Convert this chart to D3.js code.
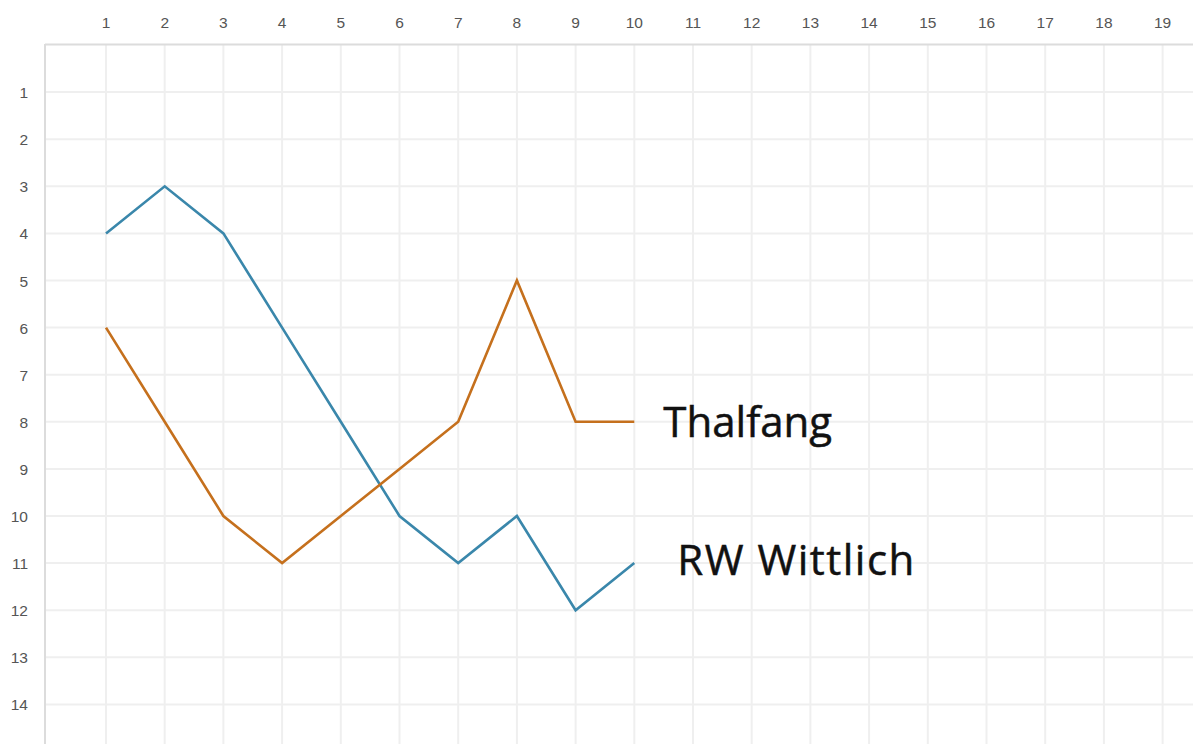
<!DOCTYPE html>
<html>
<head>
<meta charset="utf-8">
<script src="https://cdn.jsdelivr.net/npm/d3@7"></script>
<style>
  html, body { margin: 0; padding: 0; background: #fff; overflow: hidden; }
</style>
</head>
<body>
<div id="chart"></div>
<script>
// Data
const matchdays = d3.range(1, 11);
const xTicks = d3.range(1, 20);
const yTicks = d3.range(1, 15);
const wittlich = [4, 3, 4, 6, 8, 10, 11, 10, 12, 11];
const thalfang = [6, 8, 10, 11, 10, 9, 8, 5, 8, 8];
const seriesNames = ["RW Wittlich", "Thalfang"];

const width = 1193;
const height = 744;
const plotLeft = 45;
const plotTop = 45;

const svg = d3.select("#chart")
  .append("svg")
  .attr("width", width)
  .attr("height", height);

// Scales
const x = d3.scaleLinear().domain([0, 1]).range([47.3, 106]);
const y = d3.scaleLinear().domain([0, 1]).range([45, 92.1]);

// Grid
svg.append("g")
  .selectAll("line")
  .data(xTicks)
  .enter()
  .append("line")
  .attr("x1", d => x(d)).attr("x2", d => x(d))
  .attr("y1", plotTop).attr("y2", height)
  .style("stroke", "#efefef")
  .style("stroke-width", 2);

svg.append("g")
  .selectAll("line")
  .data(yTicks)
  .enter()
  .append("line")
  .attr("x1", plotLeft).attr("x2", width)
  .attr("y1", d => y(d)).attr("y2", d => y(d))
  .style("stroke", "#efefef")
  .style("stroke-width", 2);

// Frame top / left
svg.append("line")
  .attr("x1", plotLeft).attr("x2", width)
  .attr("y1", plotTop - 0.5).attr("y2", plotTop - 0.5)
  .style("stroke", "#dcdcdc").style("stroke-width", 2);
svg.append("line")
  .attr("x1", plotLeft).attr("x2", plotLeft)
  .attr("y1", plotTop - 1).attr("y2", height)
  .style("stroke", "#dcdcdc").style("stroke-width", 2);

// Tick labels
svg.append("g")
  .selectAll("text")
  .data(xTicks)
  .enter()
  .append("text")
  .attr("x", d => x(d))
  .attr("y", 28)
  .attr("text-anchor", "middle")
  .style("font-family", "Arial, 'Liberation Sans', sans-serif")
  .style("font-size", "15.5px")
  .style("fill", "#555")
  .text(d => d);

svg.append("g")
  .selectAll("text")
  .data(yTicks)
  .enter()
  .append("text")
  .attr("x", 28)
  .attr("y", d => y(d) + 6)
  .attr("text-anchor", "end")
  .style("font-family", "Arial, 'Liberation Sans', sans-serif")
  .style("font-size", "15.5px")
  .style("fill", "#555")
  .text(d => d);

// Lines
const line = d3.line()
  .x((d, i) => x(matchdays[i]))
  .y(d => y(d));

svg.append("path")
  .datum(wittlich)
  .attr("d", line)
  .style("fill", "none")
  .style("stroke", "#3a87ab")
  .style("stroke-width", 2.6)
  .style("stroke-linejoin", "miter");

svg.append("path")
  .datum(thalfang)
  .attr("d", line)
  .style("fill", "none")
  .style("stroke", "#c5701d")
  .style("stroke-width", 2.6)
  .style("stroke-linejoin", "miter");

// Labels at line ends
const last = matchdays.length - 1;
svg.append("text")
  .attr("x", x(matchdays[last]) + 29)
  .attr("y", y(thalfang[last]) + 15)
  .style("font-family", "'Open Sans', sans-serif")
  .style("font-size", "42px")
  .style("fill", "#111")
  .style("stroke", "#111")
  .style("stroke-width", 0.5)
  .text(seriesNames[1]);

svg.append("text")
  .attr("x", x(matchdays[last]) + 43)
  .attr("y", y(wittlich[last]) + 12)
  .style("font-family", "'Open Sans', sans-serif")
  .style("font-size", "42px")
  .style("letter-spacing", "1.5px")
  .style("fill", "#111")
  .style("stroke", "#111")
  .style("stroke-width", 0.5)
  .text(seriesNames[0]);
</script>
</body>
</html>
